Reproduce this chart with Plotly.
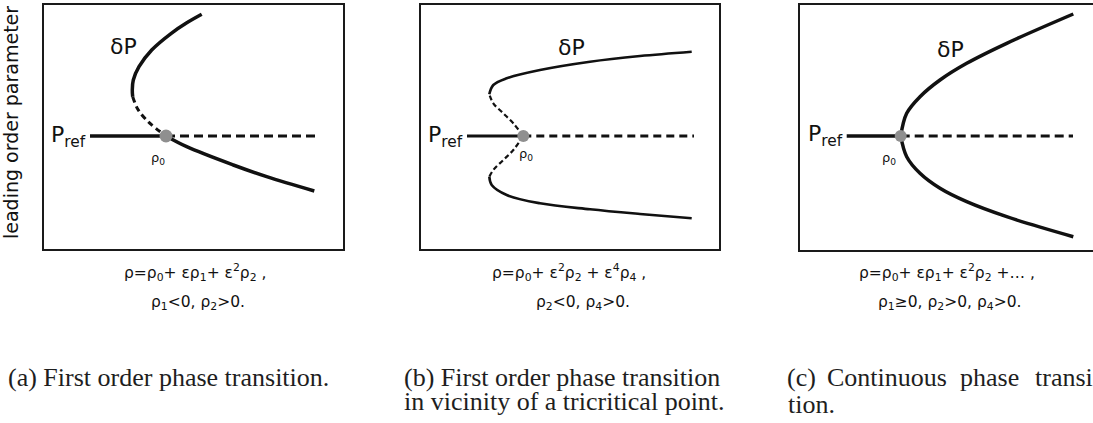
import plotly.graph_objects as go

W, H = 1093, 423

# ---------------- panel (a): first order transition ----------------
a_rho0, a_Pref = 122.0, 113.0
a_ref_rho = [46, 122]
a_ref_P = [113, 113]
a_unst_rho = [122, 274]
a_unst_P = [113, 113]
a_upper_rho = [157.7, 142, 127.3, 107.7, 95, 89.3, 88.3, 88.7]
a_upper_P = [234.7, 225.7, 215.7, 199, 182.3, 169, 159, 152.3]
a_meta_rho = [88.7, 94.3, 106, 122]
a_meta_P = [152.3, 139, 125.7, 113]
a_lower_rho = [122, 142.7, 189.3, 222.7, 270.3]
a_lower_P = [113, 102.3, 84, 72.3, 58]

# ---------------- panel (b): near a tricritical point ----------------
b_rho0, b_Pref = 102.0, 112.5
b_ref_rho = [45.7, 102]
b_ref_P = [112.5, 112.5]
b_unst_rho = [102, 272.7]
b_unst_P = [112.5, 112.5]
b_upper_rho = [68, 72, 85.4, 118.7, 168.7, 218.7, 270.4]
b_upper_P = [154.2, 163.5, 170.2, 178.5, 186.8, 192.5, 196.8]
b_upmeta_rho = [102, 92, 82, 72, 68]
b_upmeta_P = [112.5, 125.2, 135.2, 145.2, 154.2]
b_lowmeta_rho = [102, 92, 82, 72, 68]
b_lowmeta_P = [112.5, 98.5, 88.5, 78.5, 71.8]
b_lower_rho = [68, 70.4, 85.4, 118.7, 168.7, 218.7, 270.4]
b_lower_P = [71.8, 63.5, 53.5, 45.2, 39.2, 34.5, 30.2]

# ---------------- panel (c): continuous transition ----------------
c_rho0, c_Pref = 100.7, 114.0
c_ref_rho = [46.7, 100.7]
c_ref_P = [114, 114]
c_unst_rho = [100.7, 273]
c_unst_P = [114, 114]
c_branch_rho = [100.7, 106.7, 120, 140, 166.7, 206.7, 273.3]
c_upper_P = [114, 136.7, 153.3, 170, 186.7, 206.7, 236]
c_lower_P = [114, 93.3, 76.7, 61.7, 48.3, 33.3, 13.3]

# axis boxes (figure pixels, measured from the top-left corner)
boxes = {
    "a": dict(x0=44, x1=342.5, y0=4.5, y1=249),
    "b": dict(x0=421.3, x1=719, y0=5, y1=248.5),
    "c": dict(x0=800, x1=W, y0=5, y1=250),
}

SANS = "DejaVu Sans"
SERIF = "Liberation Serif"
INK = "#111111"
CAPTION_INK = "#1e1e1e"
DOT = "#8f8f8f"

fig = go.Figure()


def line(xs, ys, ax, width, dash="solid", spline=True):
    fig.add_trace(go.Scatter(
        x=xs, y=ys, mode="lines", xaxis="x" + ax, yaxis="y" + ax,
        line=dict(color=INK, width=width, dash=dash,
                  shape="spline" if spline else "linear", smoothing=1.0),
        hoverinfo="skip", showlegend=False))


def dot(x, y, ax, size):
    fig.add_trace(go.Scatter(
        x=[x], y=[y], mode="markers", xaxis="x" + ax, yaxis="y" + ax,
        marker=dict(color=DOT, size=size, line=dict(width=0)),
        hoverinfo="skip", showlegend=False))


# panel a
line(a_ref_rho, a_ref_P, "", 3.5, spline=False)
line(a_unst_rho, a_unst_P, "", 3.2, dash="9px,5px", spline=False)
line(a_upper_rho, a_upper_P, "", 3.5)
line(a_meta_rho, a_meta_P, "", 3.0, dash="6px,4px")
line(a_lower_rho, a_lower_P, "", 3.5)
dot(a_rho0, a_Pref, "", 13)

# panel b
line(b_ref_rho, b_ref_P, "2", 3.0, spline=False)
line(b_unst_rho, b_unst_P, "2", 3.0, dash="8px,5px", spline=False)
line(b_upper_rho, b_upper_P, "2", 2.6)
line(b_upmeta_rho, b_upmeta_P, "2", 2.2, dash="5px,3px")
line(b_lowmeta_rho, b_lowmeta_P, "2", 2.2, dash="5px,3px")
line(b_lower_rho, b_lower_P, "2", 2.6)
dot(b_rho0, b_Pref, "2", 12)

# panel c
line(c_ref_rho, c_ref_P, "3", 3.5, spline=False)
line(c_unst_rho, c_unst_P, "3", 3.2, dash="9px,5px", spline=False)
line(c_branch_rho, c_upper_P, "3", 3.5)
line(c_branch_rho, c_lower_P, "3", 3.5)
dot(c_rho0, c_Pref, "3", 12)


def dom_x(b):
    return [b["x0"] / W, min(b["x1"] / W, 1.0)]


def dom_y(b):
    return [(H - b["y1"]) / H, (H - b["y0"]) / H]


def axis_common():
    return dict(showgrid=False, zeroline=False, showticklabels=False,
                ticks="", showline=True, linecolor="#1a1a1a", linewidth=2,
                fixedrange=True)


layout = dict(
    width=W, height=H, margin=dict(l=0, r=0, t=0, b=0),
    paper_bgcolor="white", plot_bgcolor="white", showlegend=False,
)
for key, suffix in (("a", ""), ("b", "2"), ("c", "3")):
    b = boxes[key]
    layout["xaxis" + suffix] = dict(
        axis_common(), domain=dom_x(b), range=[0, b["x1"] - b["x0"]],
        mirror=True, anchor="y" + suffix)
    layout["yaxis" + suffix] = dict(
        axis_common(), domain=dom_y(b), range=[0, b["y1"] - b["y0"]],
        mirror=(key != "c"), anchor="x" + suffix)
fig.update_layout(**layout)


def px(x):
    return x / W


def py(y):
    return 1 - y / H


def note(text, x, y, size, family=SANS, xanchor="center", color=INK,
         textangle=0):
    fig.add_annotation(text=text, x=px(x), y=py(y), xref="paper", yref="paper",
                       showarrow=False, xanchor=xanchor, yanchor="middle",
                       textangle=textangle,
                       font=dict(family=family, size=size, color=color))


# axis title on the left
note("leading order parameter", 11, 123, 19, textangle=-90)

# branch labels
note("δP", 123.5, 46, 22)
note("δP", 571, 47.5, 22)
note("δP", 950, 49, 22)

# reference state labels
note("P<sub>ref</sub>", 88, 136, 22, xanchor="right")
note("P<sub>ref</sub>", 465, 136, 22, xanchor="right")
note("P<sub>ref</sub>", 845, 135, 22, xanchor="right")

# transition point labels
note("ρ<sub>0</sub>", 158, 158, 13)
note("ρ<sub>0</sub>", 526, 154, 13)
note("ρ<sub>0</sub>", 889, 158, 13)

# expansions
FS = 15.5
note("ρ=ρ<sub>0</sub>+ ερ<sub>1</sub>+ ε<sup>2</sup>ρ<sub>2</sub> ,", 195, 272, FS)
note("ρ<sub>1</sub>&lt;0, ρ<sub>2</sub>&gt;0.", 198, 303, FS)
note("ρ=ρ<sub>0</sub>+ ε<sup>2</sup>ρ<sub>2</sub> + ε<sup>4</sup>ρ<sub>4</sub> ,", 569, 272, FS)
note("ρ<sub>2</sub>&lt;0, ρ<sub>4</sub>&gt;0.", 583, 303, FS)
note("ρ=ρ<sub>0</sub>+ ερ<sub>1</sub>+ ε<sup>2</sup>ρ<sub>2</sub> +… ,", 947, 272, FS)
note("ρ<sub>1</sub>≥0, ρ<sub>2</sub>&gt;0, ρ<sub>4</sub>&gt;0.", 949, 303, FS)

# captions
CAP = 26
note("(a) First order phase transition.", 6, 377, CAP, family=SERIF,
     xanchor="left", color=CAPTION_INK)
note("(b) First order phase transition", 402, 377, CAP, family=SERIF,
     xanchor="left", color=CAPTION_INK)
note("in vicinity of a tricritical point.", 402, 401, CAP, family=SERIF,
     xanchor="left", color=CAPTION_INK)
# justified line: words placed individually
for word, x in (("(c)", 785), ("Continuous", 825), ("phase", 958),
                ("transi-", 1033)):
    note(word, x, 377, CAP, family=SERIF, xanchor="left", color=CAPTION_INK)
note("tion.", 786, 404, CAP, family=SERIF, xanchor="left", color=CAPTION_INK)

fig.write_html("out.html")
